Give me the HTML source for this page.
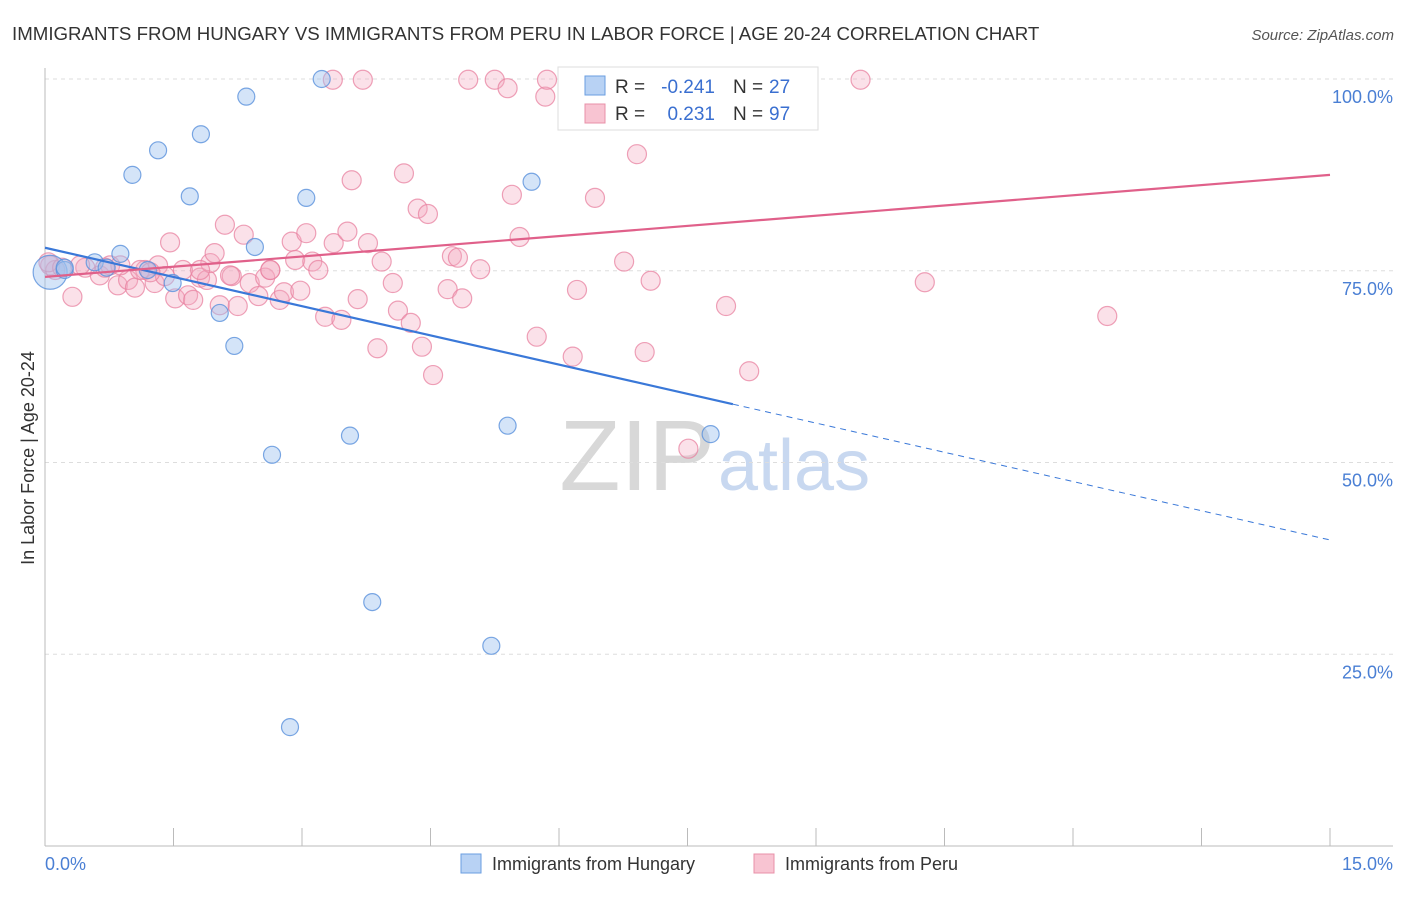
<!DOCTYPE html>
<html><head><meta charset="utf-8"><style>
body{margin:0;background:#fff;font-family:"Liberation Sans",sans-serif;}
svg text{font-family:"Liberation Sans",sans-serif;}
</style></head><body>
<svg id="chart" width="1406" height="892" xmlns="http://www.w3.org/2000/svg">
<text x="12" y="40" font-size="18.7" fill="#333">IMMIGRANTS FROM HUNGARY VS IMMIGRANTS FROM PERU IN LABOR FORCE | AGE 20-24 CORRELATION CHART</text>
<text x="1394" y="40" font-size="15" fill="#555" text-anchor="end" font-style="italic">Source: ZipAtlas.com</text>
<text x="715" y="490" font-size="100" fill="#d8d8d8" text-anchor="end" font-family="Liberation Serif">ZIP</text>
<text x="718" y="490" font-size="72" fill="#c8d8f0">atlas</text>
<text transform="translate(34,458) rotate(-90)" font-size="18" fill="#333" text-anchor="middle">In Labor Force | Age 20-24</text>
<g id="grid"></g><g id="axes"></g><g id="pts"></g><g id="lines"></g>
<g>
<rect x="558" y="67" width="260" height="63" fill="#fff" stroke="#ddd"/>
<rect x="585" y="76" width="20" height="19" fill="#b8d2f4" stroke="#6a9ee0"/>
<rect x="585" y="104" width="20" height="19" fill="#f8c4d2" stroke="#e890a8"/>
<text x="615" y="93" font-size="19" fill="#333">R =</text>
<text x="715" y="93" font-size="19" fill="#3a6fd0" text-anchor="end">-0.241</text>
<text x="733" y="93" font-size="19" fill="#333">N =</text>
<text x="769" y="93" font-size="19" fill="#3a6fd0">27</text>
<text x="615" y="120" font-size="19" fill="#333">R =</text>
<text x="715" y="120" font-size="19" fill="#3a6fd0" text-anchor="end">0.231</text>
<text x="733" y="120" font-size="19" fill="#333">N =</text>
<text x="769" y="120" font-size="19" fill="#3a6fd0">97</text>
</g>
<g>
<rect x="461" y="854" width="20" height="19" fill="#b8d2f4" stroke="#6a9ee0"/>
<text x="492" y="870" font-size="18" fill="#333">Immigrants from Hungary</text>
<rect x="754" y="854" width="20" height="19" fill="#f8c4d2" stroke="#e890a8"/>
<text x="785" y="870" font-size="18" fill="#333">Immigrants from Peru</text>
</g>
</svg>
<script>
const yTicks=[100,75,50,25];
const xTickLabels=["0.0%","15.0%"];
const hungaryX=[0.06,0.23,0.58,0.88,1.20,1.49,1.32,1.02,1.69,1.82,2.35,2.45,2.04,2.21,3.05,3.23,5.68,7.13,3.56,2.65,5.40,7.77,3.82,5.21,2.86,0.72,0.23];
const hungaryY=[74.8,75.1,76.1,77.2,75.1,73.4,90.7,87.5,84.7,92.8,97.7,78.1,69.5,65.2,84.5,100,86.6,100,53.5,51.0,54.8,53.7,31.8,26.1,15.5,75.4,75.4];
const peruX=[0.06,0.12,0.32,0.47,0.64,0.76,0.85,0.97,1.05,1.17,1.28,1.32,1.40,1.46,1.52,1.61,1.67,1.73,1.81,1.89,1.93,1.98,2.04,2.10,2.18,2.25,2.32,2.39,2.49,2.57,2.63,2.74,2.79,2.88,2.92,2.98,3.05,3.12,3.19,3.27,3.37,3.46,3.53,3.58,3.65,3.77,3.88,3.93,4.06,4.12,4.19,4.27,4.35,4.40,4.47,4.53,4.70,4.75,4.82,4.87,4.94,5.08,5.25,5.40,5.45,5.54,5.74,5.84,5.86,6.16,6.21,6.42,6.76,6.91,7.00,7.07,7.51,7.95,8.15,8.22,8.91,9.52,10.27,12.40,3.36,3.71,0.04,0.20,0.41,0.88,1.11,1.81,2.16,2.63,1.23,0.70];
const peruY=[75.7,75.1,71.6,75.4,74.4,75.7,73.1,73.8,72.8,75.1,73.4,75.7,74.3,78.7,71.4,75.1,71.8,71.2,74.1,73.8,76.0,77.3,70.5,81.0,74.3,70.4,79.7,73.4,71.7,74.1,75.1,71.2,72.2,78.8,76.4,72.4,79.9,76.2,75.1,69.0,78.6,68.6,80.1,86.8,71.3,78.6,64.9,76.2,73.4,69.8,87.7,68.2,83.1,65.1,82.4,61.4,72.6,76.9,76.7,71.4,99.9,75.2,99.9,98.8,84.9,79.4,66.4,97.7,99.9,63.8,72.5,84.5,76.2,90.2,64.4,73.7,51.8,70.4,94.7,61.9,99.9,99.9,73.5,69.1,99.9,99.9,76.1,75.4,75.7,75.7,75.1,75.1,74.4,75.1,74.8,75.4];
const hungaryTrend=[78.0,39.9]; const hungarySolidEnd=8.03;
const peruTrend=[74.2,87.5];

const NS="http://www.w3.org/2000/svg";
const X0=45,X1=1330,Y0=846,Y100=79;
const sx=v=>X0+(v/15)*(X1-X0);
const sy=v=>Y0-(v/100)*(Y0-Y100);
function mk(tag,attrs,parent){const e=document.createElementNS(NS,tag);for(const k in attrs)e.setAttribute(k,attrs[k]);document.getElementById(parent).appendChild(e);return e;}
yTicks.forEach(t=>{
  const l=mk('line',{x1:X0,x2:1393,y1:sy(t),y2:sy(t),stroke:'#ddd','stroke-dasharray':'4,4'},'grid');
  
  
  const tx=mk('text',{x:1393,y:sy(t)+24,'font-size':18,fill:'#4a7fd4','text-anchor':'end'},'grid');
  tx.textContent=t.toFixed(1)+'%';
  
  
});
mk('line',{x1:X0,x2:X0,y1:68,y2:846,stroke:'#bbb'},'axes');
mk('line',{x1:X0,x2:1393,y1:846,y2:846,stroke:'#bbb'},'axes');
for(let i=0;i<=10;i++){const x=sx(i*1.5);const t=mk('line',{x1:x,x2:x,y1:828,y2:846,stroke:'#bbb'},'axes');}
const xl0=mk('text',{x:45,y:870,'font-size':18,fill:'#4a7fd4'},'axes');xl0.textContent=xTickLabels[0];


const xl1=mk('text',{x:1393,y:870,'font-size':18,fill:'#4a7fd4','text-anchor':'end'},'axes');xl1.textContent=xTickLabels[1];


peruX.forEach((v,i)=>{
  const c=mk('circle',{cx:sx(v),cy:sy(peruY[i]),r:9.5,fill:'rgba(244,170,192,0.35)',stroke:'rgba(232,130,160,0.75)','stroke-width':1.2},'pts');
  
  
});
hungaryX.forEach((v,i)=>{
  const c=mk('circle',{cx:sx(v),cy:sy(hungaryY[i]),r:i===0?17:8.5,fill:'rgba(160,195,240,0.45)',stroke:'rgba(90,145,220,0.8)','stroke-width':1.2},'pts');
  
  
});
const hAt=x=>hungaryTrend[0]+(hungaryTrend[1]-hungaryTrend[0])*x/15;
const hs=mk('line',{x1:sx(0),y1:sy(hAt(0)),x2:sx(hungarySolidEnd),y2:sy(hAt(hungarySolidEnd)),stroke:'#3a78d8','stroke-width':2.2},'lines');


const hd=mk('line',{x1:sx(hungarySolidEnd),y1:sy(hAt(hungarySolidEnd)),x2:sx(15),y2:sy(hAt(15)),stroke:'#3a78d8','stroke-width':1,'stroke-dasharray':'6,5'},'lines');


const pl=mk('line',{x1:sx(0),y1:sy(peruTrend[0]),x2:sx(15),y2:sy(peruTrend[1]),stroke:'#e0608a','stroke-width':2.2},'lines');


</script>
</body></html>
